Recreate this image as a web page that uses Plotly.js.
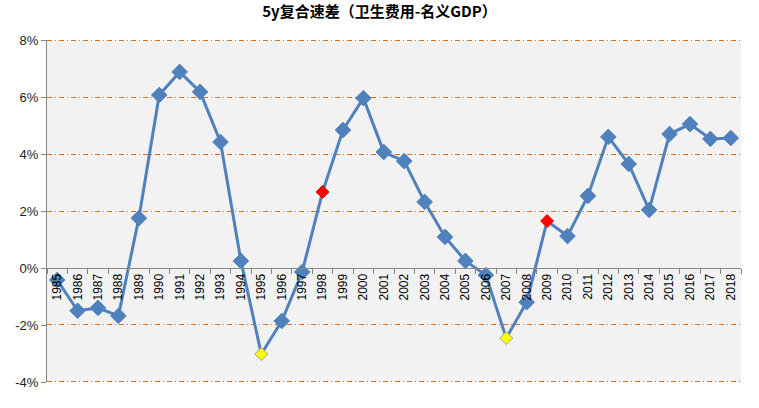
<!DOCTYPE html>
<html>
<head>
<meta charset="utf-8">
<script src="https://cdn.plot.ly/plotly-3.0.1.min.js"></script>
<style>html,body{margin:0;padding:0;background:#fff;}#chart{width:759px;height:408px;}</style>
</head>
<body>
<div id="chart"></div>
<script>
const years = ['1985','1986','1987','1988','1989','1990','1991','1992','1993','1994','1995','1996','1997','1998','1999','2000','2001','2002','2003','2004','2005','2006','2007','2008','2009','2010','2011','2012','2013','2014','2015','2016','2017','2018'];
const values = [-0.42,-1.5,-1.4,-1.68,1.75,6.07,6.88,6.18,4.42,0.25,-3.02,-1.86,-0.14,2.67,4.84,5.96,4.07,3.75,2.32,1.09,0.25,-0.25,-2.46,-1.2,1.65,1.12,2.53,4.6,3.65,2.04,4.7,5.05,4.53,4.56];
const redYears = ['1998','2009'];
const yellowYears = ['2007','1995'];
const yTickVals = [-4,-2,0,2,4,6,8];
const yTickText = ['-4%','-2%','0%','2%','4%','6%','8%'];
const gridVals = [-4,-2,2,4,6,8];
const titleText = '5y复合速差（卫生费用-名义GDP）';

const colors = years.map(y => redYears.includes(y) ? '#FF0000' : (yellowYears.includes(y) ? '#FFFF00' : '#4F81BD'));
const sizes = years.map(y => redYears.includes(y) ? 10 : (yellowYears.includes(y) ? 10 : 12));
const lineColors = years.map(y => yellowYears.includes(y) ? '#A0A0A0' : (redYears.includes(y) ? '#FF0000' : '#4F81BD'));

const trace = {
  x: years, y: values, type: 'scatter', mode: 'lines+markers',
  line: {color: '#4F81BD', width: 3},
  marker: {symbol: 'diamond', color: colors, size: sizes, opacity: 1, line: {color: lineColors, width: 1}},
  hoverinfo: 'x+y'
};

// half-pixel nudge (toward the plot interior) so 1px grid lines render crisply
const halfPx = 0.5 * 12 / 342;
const shapes = gridVals.map(v => {
  const yy = v > 0 ? v - halfPx : v + halfPx;
  return {
    type: 'line', xref: 'paper', x0: 0, x1: 1, yref: 'y', y0: yy, y1: yy,
    line: {color: '#E46C0A', width: 1, dash: '5px,3px,1px,3px'}, layer: 'below'
  };
});

const layout = {
  width: 759, height: 408,
  margin: {l: 47, r: 18, t: 40, b: 26},
  paper_bgcolor: '#FFFFFF', plot_bgcolor: '#F2F2F2',
  showlegend: false,
  shapes: shapes,
  title: {text: titleText, x: 0.5, xanchor: 'center', y: 0.985, yanchor: 'top',
          font: {family: '"Noto Sans CJK SC", sans-serif', size: 15, color: '#000', weight: 'bold'}},
  xaxis: {type: 'category', range: [-0.5, years.length - 0.5], anchor: 'free', position: 4/12,
          showline: true, linecolor: '#868686', linewidth: 1, showgrid: false, zeroline: false,
          ticks: 'outside', tickson: 'boundaries', ticklen: 5, tickcolor: '#868686',
          tickangle: -90, tickfont: {family: 'Liberation Sans, Arial, sans-serif', size: 12, color: '#000'}},
  yaxis: {range: [-4, 8], tickvals: yTickVals, ticktext: yTickText,
          showline: true, linecolor: '#868686', linewidth: 1,
          showgrid: false, zeroline: false, ticks: 'outside', ticklen: 5, tickcolor: '#868686',
          tickfont: {family: 'Liberation Sans, Arial, sans-serif', size: 13, color: '#222'}}
};

Plotly.newPlot('chart', [trace], layout, {displayModeBar: false, staticPlot: true});
</script>
</body>
</html>
